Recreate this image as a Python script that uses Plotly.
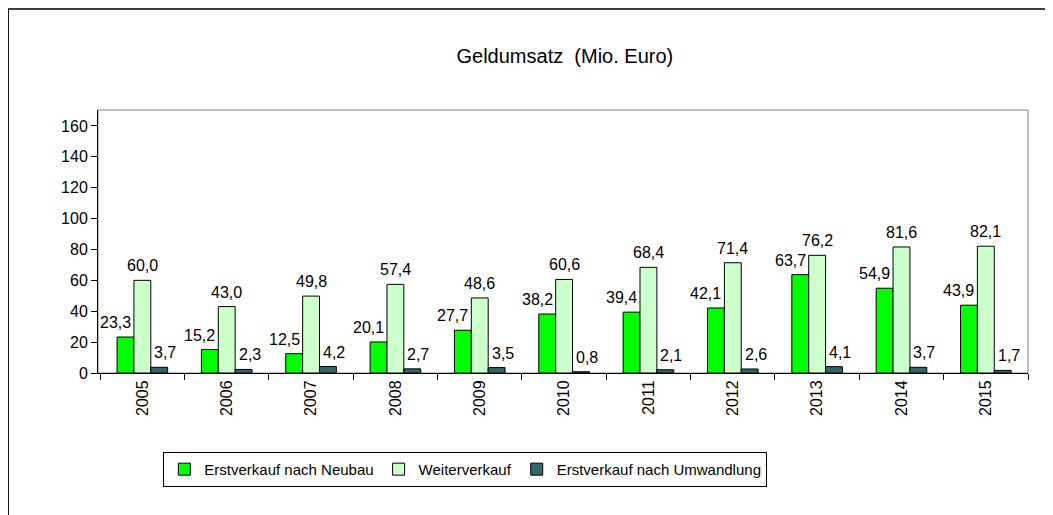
import plotly.graph_objects as go

years = ["2005", "2006", "2007", "2008", "2009", "2010", "2011", "2012", "2013", "2014", "2015"]
neubau = [23.3, 15.2, 12.5, 20.1, 27.7, 38.2, 39.4, 42.1, 63.7, 54.9, 43.9]
weiter = [60.0, 43.0, 49.8, 57.4, 48.6, 60.6, 68.4, 71.4, 76.2, 81.6, 82.1]
umwandlung = [3.7, 2.3, 4.2, 2.7, 3.5, 0.8, 2.1, 2.6, 4.1, 3.7, 1.7]

series_names = ["Erstverkauf nach Neubau", "Weiterverkauf", "Erstverkauf nach Umwandlung"]
series_values = [neubau, weiter, umwandlung]
series_colors = ["#00FF00", "#CCFFCC", "#336666"]
label_xshift = [-10, 0, 6]

FONT = "Liberation Sans, Arial, sans-serif"
BARGAP = 0.4

fig = go.Figure()
for name, vals, col in zip(series_names, series_values, series_colors):
    fig.add_trace(go.Bar(
        x=years, y=vals, name=name,
        marker=dict(color=col, line=dict(color="#000000", width=1)),
    ))

# data labels
n = len(series_values)
bw = (1 - BARGAP) / n
annotations = []
for i, vals in enumerate(series_values):
    off = (i - (n - 1) / 2) * bw
    for j, v in enumerate(vals):
        annotations.append(dict(
            x=j + off, y=v, xref="x", yref="y",
            text=f"{v:.1f}".replace(".", ","),
            showarrow=False, yanchor="bottom", xanchor="center",
            xshift=label_xshift[i], yshift=4,
            font=dict(family=FONT, size=16, color="#000000"),
        ))

W, H = 1045, 507
fig.update_layout(
    width=W, height=H,
    margin=dict(l=90, r=25, t=102, b=142),
    paper_bgcolor="white", plot_bgcolor="white",
    barmode="group", bargap=BARGAP, bargroupgap=0,
    font=dict(family=FONT, size=16, color="#000000"),
    title=dict(text="Geldumsatz  (Mio. Euro)", x=0.502, xref="paper", xanchor="center",
               y=1 - 48 / H, yanchor="middle",
               font=dict(family=FONT, size=20, color="#000000")),
    showlegend=True,
    legend=dict(orientation="h", x=0.395, xanchor="center", y=-0.30, yanchor="top",
                bordercolor="#000000", borderwidth=1, bgcolor="white",
                font=dict(family=FONT, size=15, color="#000000")),
    annotations=annotations,
    shapes=[
        dict(type="rect", xref="paper", yref="paper", x0=0, x1=1, y0=0, y1=1,
             line=dict(color="#808080", width=1), layer="below"),
        dict(type="rect", xref="paper", yref="paper", x0=-0.0966, x1=1.2, y0=-1.0, y1=1.384,
             line=dict(color="#000000", width=1.5), layer="below"),
    ],
)
fig.update_xaxes(
    type="category", tickangle=-90, showline=True, linecolor="#000000", linewidth=1,
    ticks="outside", tickson="boundaries", ticklen=6, tickcolor="#000000",
    showgrid=False, tickfont=dict(family=FONT, size=16, color="#000000"),
)
fig.update_yaxes(
    range=[0, 170.3], tickvals=[0, 20, 40, 60, 80, 100, 120, 140, 160],
    showline=True, linecolor="#000000", linewidth=1,
    ticks="outside", ticklen=6, tickcolor="#000000", showgrid=False, zeroline=False,
    tickfont=dict(family=FONT, size=16, color="#000000"),
)
fig.write_html("out.html")
